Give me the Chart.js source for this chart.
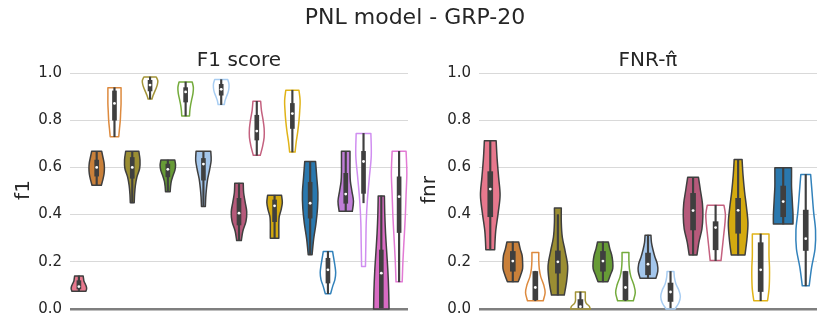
<!DOCTYPE html>
<html>
<head>
<meta charset="utf-8">
<script src="https://cdn.jsdelivr.net/npm/chart.js@4.4.1/dist/chart.umd.min.js"></script>
<style>
  body { margin: 0; background: #fff; font-family: "DejaVu Sans", sans-serif; }
  #wrap { position: relative; width: 830px; height: 332px; overflow: hidden; }
  #suptitle { position: absolute; left: 0; top: 3px; width: 830px; text-align: center; font-size: 22px; line-height: 28px; color: #262626; }
  .subtitle { position: absolute; top: 47px; width: 338px; text-align: center; font-size: 20px; line-height: 24px; color: #262626; }
  .ylabel { position: absolute; top: 178px; width: 60px; margin-left: -30px; text-align: center; font-size: 20px; line-height: 24px; color: #262626; transform: rotate(-90deg); }
  .panel { position: absolute; top: 0; width: 415px; height: 332px; }
</style>
</head>
<body>
<div id="wrap">
  <div class="panel" style="left:0"><canvas id="chart-f1"></canvas></div>
  <div class="panel" style="left:415px"><canvas id="chart-fnr"></canvas></div>
  <div id="suptitle">PNL model - GRP-20</div>
  <div class="subtitle" style="left:70px">F1 score</div>
  <div class="subtitle" style="left:479px">FNR-&pi;&#770;</div>
  <div class="ylabel" style="left:22px">f1</div>
  <div class="ylabel" style="left:428px">fnr</div>
</div>
<script>
// ---- F1 score panel (19 violins) ----
const f1Cats = ['1', '2', '3', '4', '5', '6', '7', '8', '9', '10', '11', '12', '13', '14', '15', '16', '17', '18', '19'];
const f1Min = [0.075, 0.524, 0.73, 0.45, 0.89, 0.497, 0.818, 0.434, 0.866, 0.29, 0.651, 0.30, 0.665, 0.23, 0.065, 0.414, 0.18, 0.0, 0.115];
const f1Q1 = [0.085, 0.563, 0.80, 0.554, 0.924, 0.56, 0.877, 0.546, 0.906, 0.356, 0.716, 0.37, 0.765, 0.385, 0.11, 0.448, 0.49, 0.005, 0.324];
const f1Med = [0.095, 0.60, 0.871, 0.60, 0.949, 0.592, 0.92, 0.614, 0.931, 0.406, 0.754, 0.437, 0.828, 0.448, 0.166, 0.487, 0.625, 0.152, 0.476];
const f1Q3 = [0.12, 0.631, 0.924, 0.642, 0.969, 0.614, 0.938, 0.638, 0.952, 0.469, 0.821, 0.462, 0.871, 0.537, 0.215, 0.575, 0.668, 0.25, 0.56];
const f1Max = [0.14, 0.668, 0.938, 0.668, 0.983, 0.631, 0.962, 0.668, 0.972, 0.533, 0.88, 0.482, 0.927, 0.625, 0.244, 0.668, 0.744, 0.479, 0.668];
const f1WhiskerLo = [0.075, 0.524, 0.73, 0.45, 0.89, 0.497, 0.818, 0.434, 0.866, 0.29, 0.651, 0.30, 0.665, 0.23, 0.065, 0.414, 0.45, 0.0, 0.115];
const f1WhiskerHi = [0.14, 0.668, 0.938, 0.668, 0.983, 0.631, 0.962, 0.668, 0.972, 0.533, 0.88, 0.482, 0.927, 0.625, 0.244, 0.668, 0.744, 0.479, 0.668];
// relative violin width, sampled evenly from min (first) to max (last)
const f1Shape = [
  [0.9, 1.0, 0.95, 0.8, 0.65, 0.6, 0.55],
  [0.6, 0.8, 0.95, 1.0, 0.95, 0.8, 0.65],
  [0.55, 0.65, 0.75, 0.8, 0.85, 0.85, 0.85],
  [0.25, 0.3, 0.4, 0.6, 0.95, 1.0, 0.85],
  [0.25, 0.4, 0.6, 0.8, 0.95, 1.0, 0.8],
  [0.3, 0.35, 0.45, 0.65, 0.9, 1.0, 0.9],
  [0.5, 0.55, 0.65, 0.8, 0.95, 1.0, 0.85],
  [0.25, 0.3, 0.4, 0.55, 0.8, 1.0, 0.95],
  [0.4, 0.5, 0.7, 0.9, 1.0, 1.0, 0.85],
  [0.3, 0.5, 0.9, 1.0, 0.8, 0.6, 0.55],
  [0.45, 0.75, 0.95, 0.95, 0.8, 0.6, 0.5],
  [0.55, 0.55, 0.55, 0.6, 0.85, 1.0, 0.9],
  [0.35, 0.5, 0.7, 0.85, 0.95, 1.0, 0.85],
  [0.25, 0.45, 0.75, 0.95, 1.0, 0.85, 0.7],
  [0.35, 0.6, 0.9, 1.0, 0.9, 0.75, 0.6],
  [0.85, 1.0, 0.8, 0.6, 0.55, 0.55, 0.55],
  [0.25, 0.3, 0.35, 0.5, 0.75, 1.0, 0.95],
  [1.0, 0.95, 0.85, 0.7, 0.55, 0.45, 0.4],
  [0.4, 0.5, 0.65, 0.8, 0.9, 1.0, 0.9]
];

// ---- FNR panel (15 violins) ----
const fnrCats = ['1', '2', '3', '4', '5', '6', '7', '8', '9', '10', '11', '12', '13', '14', '15'];
const fnrMin = [0.251, 0.115, 0.035, 0.059, 0.0, 0.115, 0.035, 0.13, 0.0, 0.229, 0.205, 0.229, 0.035, 0.36, 0.098];
const fnrQ1 = [0.391, 0.16, 0.039, 0.152, 0.0, 0.16, 0.039, 0.145, 0.032, 0.335, 0.251, 0.321, 0.074, 0.391, 0.248];
const fnrMed = [0.508, 0.203, 0.091, 0.20, 0.01, 0.203, 0.091, 0.19, 0.072, 0.417, 0.345, 0.418, 0.166, 0.455, 0.298];
const fnrQ3 = [0.582, 0.244, 0.159, 0.246, 0.04, 0.244, 0.159, 0.237, 0.11, 0.49, 0.37, 0.469, 0.281, 0.521, 0.419];
const fnrMax = [0.713, 0.284, 0.239, 0.428, 0.072, 0.284, 0.239, 0.313, 0.159, 0.558, 0.44, 0.634, 0.318, 0.598, 0.57];
const fnrWhiskerLo = [0.251, 0.115, 0.035, 0.059, 0.0, 0.115, 0.035, 0.13, 0.0, 0.229, 0.205, 0.229, 0.035, 0.36, 0.098];
const fnrWhiskerHi = [0.713, 0.284, 0.16, 0.40, 0.072, 0.284, 0.16, 0.313, 0.159, 0.558, 0.44, 0.634, 0.318, 0.598, 0.57];
const fnrShape = [
  [0.45, 0.55, 0.8, 1.0, 0.85, 0.7, 0.6],
  [0.55, 0.8, 1.0, 1.0, 0.95, 0.75, 0.6],
  [0.8, 1.0, 0.85, 0.55, 0.4, 0.35, 0.35],
  [0.65, 0.9, 1.0, 0.75, 0.45, 0.35, 0.35],
  [1.0, 0.9, 0.6, 0.5, 0.5, 0.5, 0.5],
  [0.5, 0.75, 1.0, 1.0, 0.9, 0.7, 0.55],
  [0.8, 1.0, 0.85, 0.55, 0.4, 0.35, 0.35],
  [0.8, 1.0, 0.95, 0.7, 0.5, 0.35, 0.3],
  [0.45, 0.85, 1.0, 0.85, 0.55, 0.4, 0.35],
  [0.4, 0.6, 0.9, 1.0, 0.95, 0.75, 0.55],
  [0.55, 0.65, 0.75, 0.85, 0.95, 1.0, 0.85],
  [0.7, 0.9, 1.0, 0.85, 0.65, 0.5, 0.4],
  [0.7, 0.85, 0.9, 0.9, 0.85, 0.85, 0.85],
  [1.0, 1.0, 0.95, 0.9, 0.85, 0.85, 0.85],
  [0.35, 0.6, 0.95, 1.0, 0.8, 0.65, 0.5]
];

// ---- styles ----
const PAL = {
  pink: ['#e7788d', '#e7788d'],
  orange: ['#c9803a', '#dd8a3e'],
  olive: ['#9b8e33', '#a39437'],
  green: ['#679b36', '#74ab3c'],
  lblue: ['#a3c6ec', '#a8cdf2'],
  crimson: ['#b65a7b', '#c4617f'],
  gold: ['#d4aa10', '#e0b318'],
  blue: ['#2a78ae', '#3282bb'],
  purple: ['#c07ed8', '#d08ef0'],
  magenta: ['#d96bc3', '#e27ad4']
};
const f1Colors = ['pink', 'orange', 'orange', 'olive', 'olive', 'green', 'green', 'lblue', 'lblue', 'crimson', 'crimson', 'gold', 'gold', 'blue', 'blue', 'purple', 'purple', 'magenta', 'magenta'];
const f1Filled = [1, 1, 0, 1, 0, 1, 0, 1, 0, 1, 0, 1, 0, 1, 0, 1, 0, 1, 0];
const fnrColors = ['pink', 'orange', 'orange', 'olive', 'olive', 'green', 'green', 'lblue', 'lblue', 'crimson', 'crimson', 'gold', 'gold', 'blue', 'blue'];
const fnrFilled = [1, 1, 0, 1, 0, 1, 0, 1, 0, 1, 0, 1, 0, 1, 0];

const DARK = '#3f3f3f';
const TEXT = '#262626';

// violin outlines drawn through the chart's own x/y scales
function violinPlugin(v) {
  return {
    id: 'violins',
    beforeDatasetsDraw(chart) {
      const xs = chart.scales.x, ys = chart.scales.y, ctx = chart.ctx;
      const half = xs.width / v.min.length * 0.435;
      v.min.forEach((lo, i) => {
        const hi = v.max[i], shape = v.shape[i], n = shape.length;
        const xc = xs.getPixelForValue(i);
        const right = shape.map((w, k) => ({ x: xc + half * w, y: ys.getPixelForValue(lo + (hi - lo) * k / (n - 1)) }));
        const left = right.map(p => ({ x: 2 * xc - p.x, y: p.y })).reverse();
        ctx.save();
        ctx.beginPath();
        ctx.moveTo(right[0].x, right[0].y);
        spline(ctx, right);
        ctx.lineTo(left[0].x, left[0].y);
        spline(ctx, left);
        ctx.closePath();
        const col = PAL[v.colors[i]];
        if (v.filled[i]) {
          ctx.fillStyle = col[0];
          ctx.fill();
          ctx.strokeStyle = DARK;
        } else {
          ctx.strokeStyle = col[1];
        }
        ctx.lineWidth = 1.5;
        ctx.lineJoin = 'round';
        ctx.stroke();
        ctx.restore();
      });
    }
  };
}

function spline(ctx, pts) {
  for (let i = 0; i < pts.length - 1; i++) {
    const p0 = pts[Math.max(i - 1, 0)], p1 = pts[i], p2 = pts[i + 1], p3 = pts[Math.min(i + 2, pts.length - 1)];
    ctx.bezierCurveTo(
      p1.x + (p2.x - p0.x) / 6, p1.y + (p2.y - p0.y) / 6,
      p2.x - (p3.x - p1.x) / 6, p2.y - (p3.y - p1.y) / 6,
      p2.x, p2.y
    );
  }
}

function makeChart(id, d) {
  return new Chart(document.getElementById(id), {
    type: 'bar',
    data: {
      labels: d.cats,
      datasets: [
        {
          type: 'line', data: d.med, showLine: false,
          pointRadius: 1.4, pointBackgroundColor: '#ffffff', pointBorderWidth: 0
        },
        {
          data: d.cats.map((_, i) => [d.q1[i], d.q3[i]]),
          backgroundColor: DARK, barThickness: d.boxW, grouped: false, borderWidth: 0
        },
        {
          data: d.cats.map((_, i) => [d.whLo[i], d.whHi[i]]),
          backgroundColor: DARK, barThickness: 1.5, grouped: false, borderWidth: 0
        }
      ]
    },
    options: {
      responsive: true,
      maintainAspectRatio: false,
      animation: false,
      layout: { padding: { top: 73, bottom: 23, right: d.padRight, left: 0 } },
      plugins: {
        legend: { display: false },
        tooltip: { enabled: false }
      },
      scales: {
        x: { display: false, offset: true },
        y: {
          min: 0, max: 1,
          afterFit: s => { s.width = d.axisW; },
          border: { display: false },
          grid: {
            drawTicks: false,
            color: c => c.tick.value === 0 ? '#7f7f7f' : '#d9d9d9',
            lineWidth: c => c.tick.value === 0 ? 2.5 : 1
          },
          ticks: {
            stepSize: 0.2, padding: 8, color: TEXT,
            font: { family: 'DejaVu Sans', size: 15 },
            callback: v => v.toFixed(1)
          }
        }
      }
    },
    plugins: [violinPlugin({ min: d.min, max: d.max, shape: d.shape, colors: d.colors, filled: d.filled })]
  });
}

makeChart('chart-f1', {
  cats: f1Cats, min: f1Min, q1: f1Q1, med: f1Med, q3: f1Q3, max: f1Max,
  whLo: f1WhiskerLo, whHi: f1WhiskerHi, shape: f1Shape, colors: f1Colors, filled: f1Filled,
  axisW: 70, padRight: 7, boxW: 4
});

makeChart('chart-fnr', {
  cats: fnrCats, min: fnrMin, q1: fnrQ1, med: fnrMed, q3: fnrQ3, max: fnrMax,
  whLo: fnrWhiskerLo, whHi: fnrWhiskerHi, shape: fnrShape, colors: fnrColors, filled: fnrFilled,
  axisW: 64, padRight: 13, boxW: 5
});
</script>
</body>
</html>
